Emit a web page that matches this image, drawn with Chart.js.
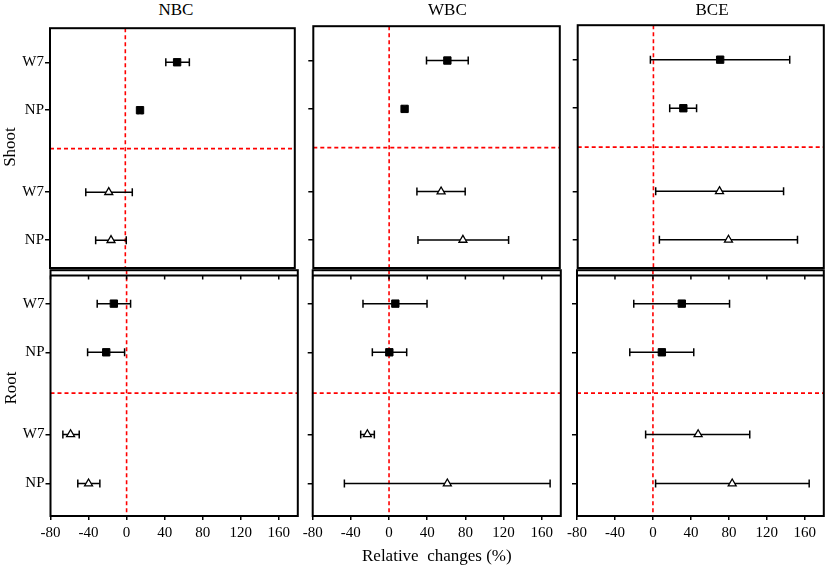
<!DOCTYPE html>
<html>
<head>
<meta charset="utf-8">
<script src="https://cdn.jsdelivr.net/npm/chart.js@4.4.1/dist/chart.umd.min.js"></script>
<style>
  body { margin: 0; width: 829px; height: 570px; position: relative; overflow: hidden; background: #fff;
         font-family: "Liberation Serif", "DejaVu Serif", serif; color: #000; }
  canvas { position: absolute; }
  .txt { position: absolute; height: 20px; line-height: 20px; font-size: 17px; white-space: pre; }
</style>
</head>
<body>
<script>
// ---- data ----
const groups = ["NBC", "WBC", "BCE"];
const rowLabels = ["W7", "NP", "W7", "NP"];
const xTicks = [-80, -40, 0, 40, 80, 120, 160];

// each row: [mean, lower, upper] relative change (%)
// row order: W7, NP (filled squares), W7, NP (open triangles)
const shootNBC = [[55, 43, 68], [15.6, 13.5, 17.7], [-17.6, -42, 7.4], [-15.2, -31.5, 1]];
const shootWBC = [[61.4, 39.4, 83.4], [16.3, 14.2, 18.4], [54.8, 29.3, 80.2], [77.8, 30.4, 126]];
const shootBCE = [[70.5, -3.2, 144], [31.6, 17.2, 45.6], [69.8, 2.4, 137.5], [79.3, 6.3, 152.2]];
const rootNBC = [[-13.4, -30.9, 4.2], [-21.4, -41, -2.1], [-58.9, -67, -49.8], [-40, -51.3, -28.1]];
const rootWBC = [[6.6, -27.3, 39.8], [0.3, -17.5, 18.5], [-22.7, -29.7, -15.4], [61.1, -46.8, 168.8]];
const rootBCE = [[30.4, -20.2, 80.7], [9.4, -24.4, 43], [47.6, -7.7, 102], [83.5, 2.8, 164.6]];

// ---- layout ----
const frames = {
  shoot: [[50, 26, 296.5, 268], [313.3, 24.3, 561.7, 268], [577.7, 23, 826, 268]],
  root: [[50.5, 268, 299.7, 516], [312.7, 268, 562.3, 516], [577, 268, 826, 516]]
};
const rowPos = { shoot: [0.71, 1.71, 3.42, 4.42], root: [0.68, 1.67, 3.34, 4.34] };
const dividerPos = { shoot: 2.51, root: 2.5 };
const RED = "#ff0000";

Chart.defaults.font.family = '"Liberation Serif", "DejaVu Serif", serif';
Chart.defaults.color = "#000";

const framePlugin = {
  id: "frame",
  afterDatasetsDraw(chart, args, opts) {
    const { ctx, chartArea: a } = chart;
    ctx.save();
    ctx.strokeStyle = "#000";
    ctx.lineWidth = 2;
    ctx.strokeRect(a.left, a.top, a.right - a.left, a.bottom - a.top);
    if (opts.innerTop) {
      const y = a.top + opts.innerTop;
      ctx.beginPath();
      ctx.moveTo(a.left, y);
      ctx.lineTo(a.right, y);
      ctx.stroke();
      ctx.lineWidth = 1.5;
      ctx.beginPath();
      xTicks.forEach((v) => {
        const x = chart.scales.x.getPixelForValue(v);
        ctx.moveTo(x, y);
        ctx.lineTo(x, y + 4);
      });
      ctx.stroke();
    }
    ctx.restore();
  }
};

function noPadding(s) {
  s.paddingTop = 0; s.paddingBottom = 0; s.paddingLeft = 0; s.paddingRight = 0;
}

function makePanel(rowKey, col, rows) {
  const [x0, y0, x1, y1] = frames[rowKey][col];
  const isRoot = rowKey === "root";
  const L = 50, T = 4, R = 4, B = 30;
  const left = Math.floor(x0) - L, top = Math.floor(y0) - T;
  const w = Math.ceil(x1 - left + R), h = Math.ceil(y1 - top + B);
  const cv = document.createElement("canvas");
  cv.width = w; cv.height = h;
  cv.style.left = left + "px"; cv.style.top = top + "px";
  document.body.appendChild(cv);

  const pos = rowPos[rowKey];
  const datasets = [];

  // markers on top
  datasets.push({
    type: "scatter",
    data: rows.slice(0, 2).map((r, i) => ({ x: r[0], y: pos[i] })),
    pointStyle: "rect", pointRadius: 5.2, pointBackgroundColor: "#000",
    pointBorderColor: "#000", pointBorderWidth: 1
  });
  datasets.push({
    type: "scatter",
    data: rows.slice(2).map((r, i) => ({ x: r[0], y: pos[i + 2] })),
    pointStyle: "triangle", pointRadius: 4.6, pointBackgroundColor: "#fff",
    pointBorderColor: "#000", pointBorderWidth: 1.3
  });
  // error bars with caps
  rows.forEach((r, i) => {
    datasets.push({
      type: "line",
      data: [{ x: r[1], y: pos[i] }, { x: r[2], y: pos[i] }],
      borderColor: "#000", borderWidth: 1.5,
      pointStyle: "line", pointRotation: 90, pointRadius: 4,
      pointBorderColor: "#000", pointBorderWidth: 1.5
    });
  });
  // red reference lines
  datasets.push({
    type: "line", data: [{ x: 0, y: 0 }, { x: 0, y: 5 }],
    borderColor: RED, borderWidth: 1.6, borderDash: [4, 3], pointRadius: 0
  });
  datasets.push({
    type: "line", data: [{ x: -80, y: dividerPos[rowKey] }, { x: 180, y: dividerPos[rowKey] }],
    borderColor: RED, borderWidth: 1.6, borderDash: [4, 3], pointRadius: 0
  });

  new Chart(cv.getContext("2d"), {
    type: "scatter",
    data: { datasets },
    options: {
      responsive: false,
      animation: false,
      events: [],
      layout: { padding: { top: y0 - top, right: w - (x1 - left), left: 0, bottom: 0 } },
      plugins: {
        legend: { display: false },
        tooltip: { enabled: false },
        frame: { innerTop: isRoot ? 5.3 : 0 }
      },
      scales: {
        x: {
          type: "linear", min: -80, max: 180,
          afterBuildTicks: (s) => { s.ticks = xTicks.map((value) => ({ value })); },
          afterFit: (s) => { s.height = h - (y1 - top); noPadding(s); },
          border: { display: false },
          grid: { drawOnChartArea: false, drawTicks: isRoot, tickLength: 4, color: "#000", lineWidth: 1.5 },
          ticks: { display: isRoot, padding: 4, font: { size: 15 }, callback: (v) => String(v) }
        },
        y: {
          type: "linear", min: 0, max: 5, reverse: true,
          afterBuildTicks: (s) => { s.ticks = pos.map((value) => ({ value })); },
          afterFit: (s) => { s.width = x0 - left; noPadding(s); },
          border: { display: false },
          grid: { drawOnChartArea: false, drawTicks: true, tickLength: 5, color: "#000", lineWidth: 1.5 },
          ticks: {
            display: col === 0, padding: 1, font: { size: 15 },
            callback: (v, i) => rowLabels[i]
          }
        }
      }
    },
    plugins: [framePlugin]
  });
}

[shootNBC, shootWBC, shootBCE].forEach((rows, c) => makePanel("shoot", c, rows));
[rootNBC, rootWBC, rootBCE].forEach((rows, c) => makePanel("root", c, rows));

// titles and axis labels
function addText(text, cx, cy, rotate) {
  const d = document.createElement("div");
  d.className = "txt";
  d.textContent = text;
  document.body.appendChild(d);
  const wpx = d.offsetWidth;
  d.style.left = (cx - wpx / 2) + "px";
  d.style.top = (cy - 10) + "px";
  if (rotate) d.style.transform = "rotate(-90deg)";
}
const titleX = [176, 447.5, 712];
groups.forEach((g, i) => addText(g, titleX[i], 10.3));
addText("Shoot", 10, 147, true);
addText("Root", 10, 388, true);
addText("Relative  changes (%)", 437, 556.2);
</script>
</body>
</html>
